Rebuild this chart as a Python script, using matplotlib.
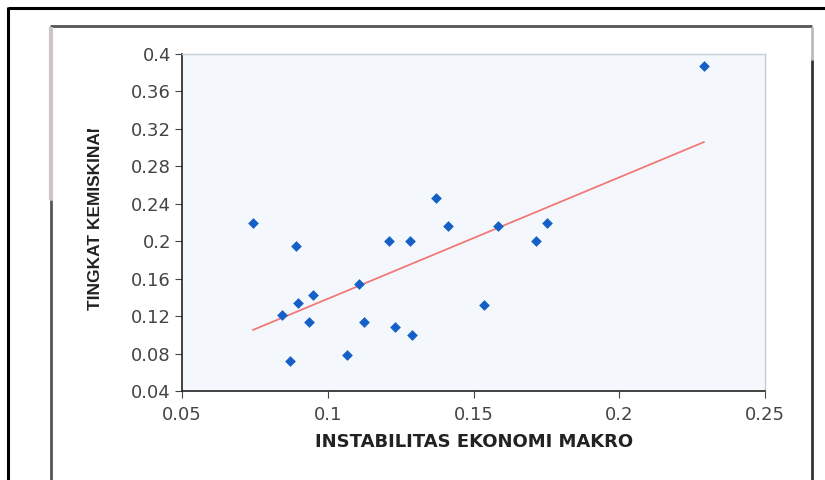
import numpy as np
import matplotlib.pyplot as plt
from matplotlib.lines import Line2D
from matplotlib.transforms import Bbox

plt.rcParams['font.family'] = ['DejaVu Sans']

# instabilitas ekonomi makro vs tingkat kemiskinan
x = [0.0744, 0.0891, 0.0843, 0.0898, 0.0949, 0.0936, 0.0870, 0.1066, 0.1107, 0.1124, 0.1210,
     0.1282, 0.1230, 0.1289, 0.1371, 0.1413, 0.1536, 0.1584, 0.1714, 0.1752, 0.2290]
y = [0.220, 0.195, 0.121, 0.134, 0.143, 0.114, 0.072, 0.078, 0.154, 0.114, 0.200,
     0.200, 0.108, 0.100, 0.246, 0.216, 0.132, 0.216, 0.200, 0.220, 0.387]

x_ticks = [0.05, 0.1, 0.15, 0.2, 0.25]
x_labels = ['0.05', '0.1', '0.15', '0.2', '0.25']
y_ticks = [0.04, 0.08, 0.12, 0.16, 0.2, 0.24, 0.28, 0.32, 0.36, 0.4]
y_labels = ['0.04', '0.08', '0.12', '0.16', '0.2', '0.24', '0.28', '0.32', '0.36', '0.4']

fig = plt.figure(figsize=(8.25, 4.8), dpi=100)
ax = fig.add_axes([182/825, 1-391/480, (765-182)/825, (391-54)/480])
ax.set_facecolor('#f4f8fc')

ax.scatter(x, y, marker='D', s=30, color='#1560c6', zorder=3, linewidths=0)

# linear trend line
k, b = np.polyfit(x, y, 1)
xs = np.array([min(x), max(x)])
ax.plot(xs, k*xs + b, color='#f07a78', lw=1.3, zorder=2)

ax.set_xlim(0.05, 0.25)
ax.set_ylim(0.04, 0.4)
ax.set_xticks(x_ticks)
ax.set_xticklabels(x_labels)
ax.set_yticks(y_ticks)
ax.set_yticklabels(y_labels)
ax.tick_params(labelsize=13, colors='#444444', length=5, direction='out')
ax.tick_params(axis='y', pad=3)
ax.tick_params(axis='x', pad=6)
for s in ['left', 'bottom']:
    ax.spines[s].set_color('#222222')
    ax.spines[s].set_linewidth(1.2)
for s in ['top', 'right']:
    ax.spines[s].set_color('#c4ccd4')
    ax.spines[s].set_linewidth(1)

fig.text(474/825, 1-442/480, 'INSTABILITAS EKONOMI MAKRO', ha='center', va='center',
         fontsize=13, fontweight='bold', color='#222222')
yl = fig.text(96/825, 1-310/480, 'TINGKAT KEMISKINAN', ha='center', va='bottom', rotation=90,
              fontsize=12.5, fontweight='bold', color='#222222', family='Liberation Sans')
yl.set_clip_box(Bbox([[0, 0], [825, 480-129]]))
yl.set_clip_on(True)

# frames of the scanned page
frame = dict(solid_capstyle='butt')
fig.add_artist(Line2D([8/825, 1], [1-8/480, 1-8/480], color='black', lw=2.2, **frame))
fig.add_artist(Line2D([8/825, 8/825], [-0.05, 1-7/480], color='black', lw=2.2, **frame))
fig.add_artist(Line2D([50/825, 812/825], [1-26/480, 1-26/480], color='#555555', lw=2, **frame))
fig.add_artist(Line2D([51/825, 51/825], [1-200/480, 1-27/480], color='#cfc3ca', lw=3, **frame))
fig.add_artist(Line2D([51/825, 51/825], [-0.05, 1-200/480], color='#555555', lw=2, **frame))
fig.add_artist(Line2D([812/825, 812/825], [1-60/480, 1-27/480], color='#bbbbbb', lw=2, **frame))
fig.add_artist(Line2D([812/825, 812/825], [-0.05, 1-60/480], color='#333333', lw=2, **frame))

fig.savefig('out.png', dpi=100)
